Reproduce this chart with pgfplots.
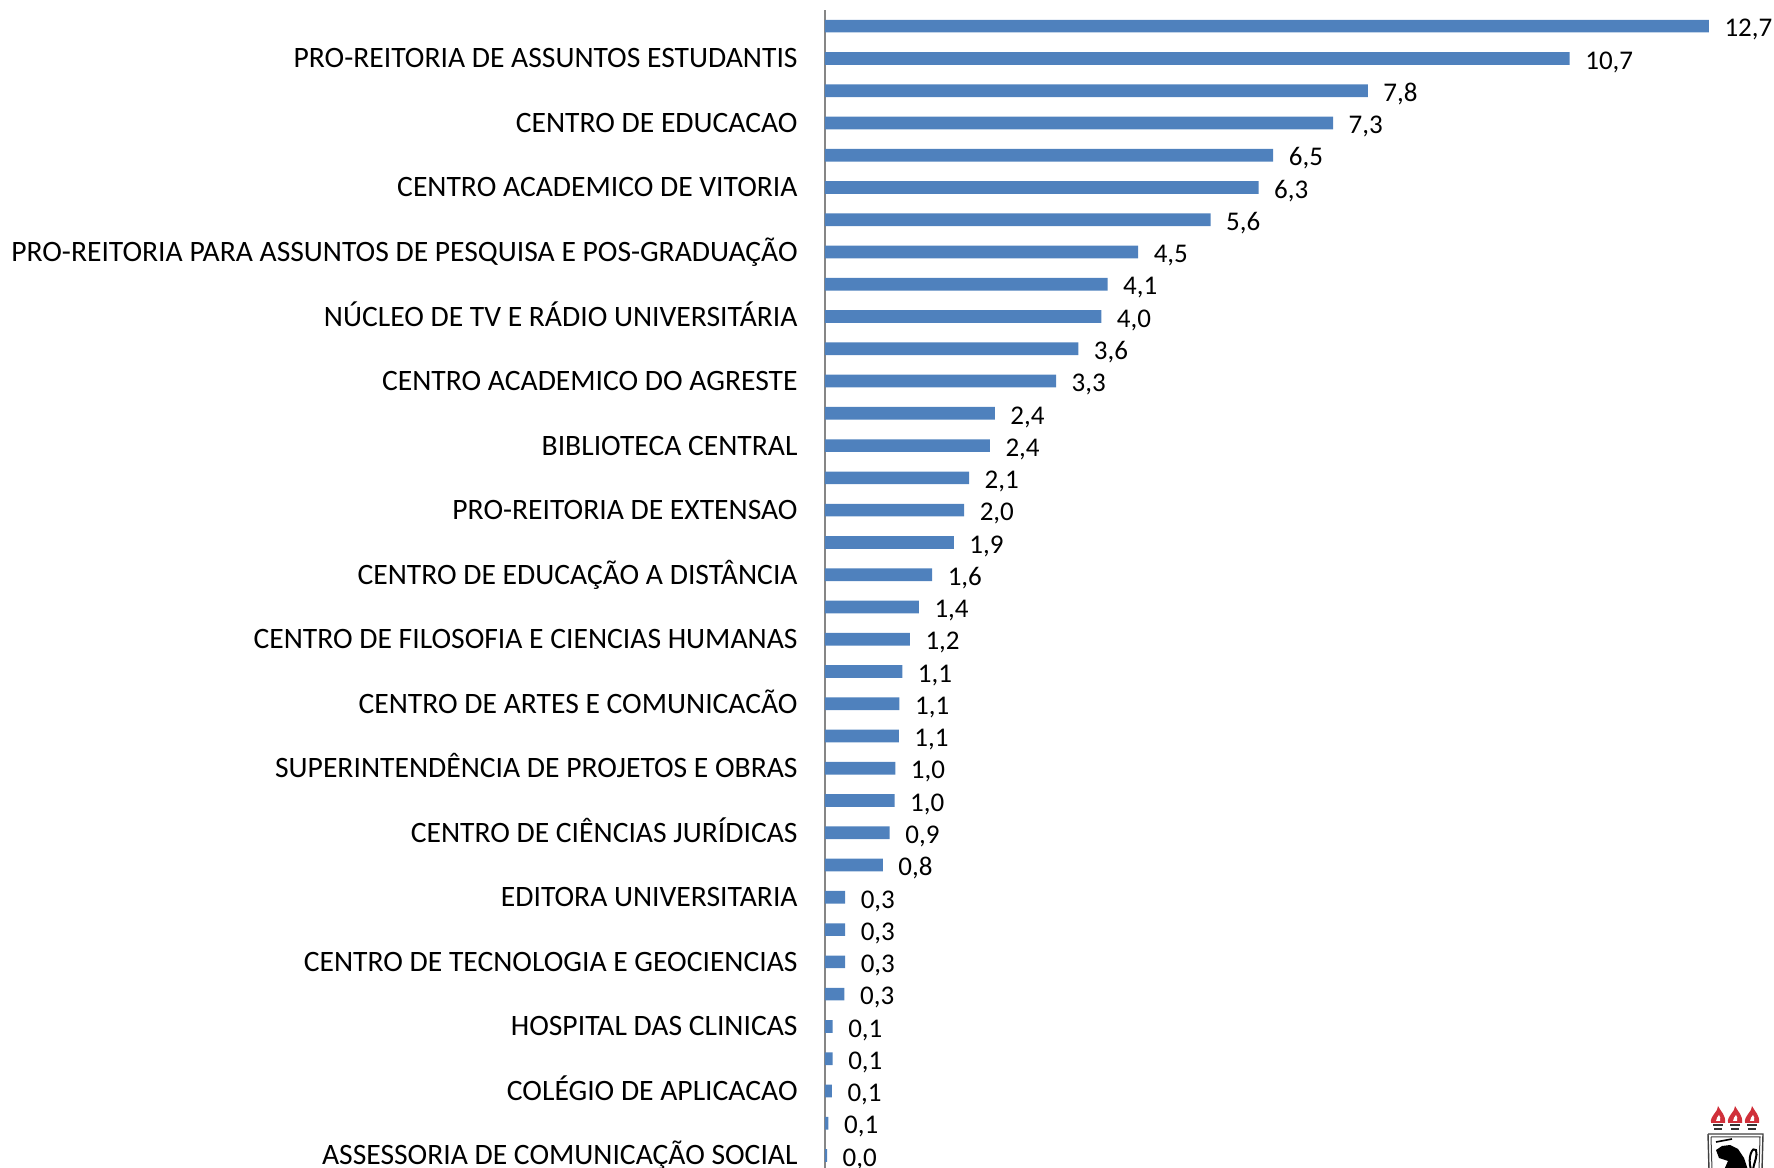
\documentclass[border=0pt]{standalone}
\usepackage{pgfplots}
\pgfplotsset{compat=1.18}
\usepackage{fontspec}
\setmainfont{Carlito}
\definecolor{barblue}{HTML}{4F81BD}
\definecolor{axisgray}{HTML}{868686}
\definecolor{flame}{HTML}{D0303A}
\begin{document}
\begin{tikzpicture}
\path[use as bounding box] (0,0) rectangle (887pt,584pt);
\begin{axis}[
  at={(412.5pt,-1.8pt)},anchor=south west,
  scale only axis,width=469.8pt,height=580.8pt,
  xmin=0,xmax=13.5,ymin=0.5,ymax=36.5,y dir=reverse,
  axis x line=none,axis y line*=left,
  axis line style={draw=axisgray,line width=1pt,-},
  clip=false,
  xbar,bar width=6.35pt,
  ytick={2,4,...,36},
  yticklabels={PRO-REITORIA DE ASSUNTOS ESTUDANTIS,CENTRO DE EDUCACAO,CENTRO ACADEMICO DE VITORIA,PRO-REITORIA PARA ASSUNTOS DE PESQUISA E POS-GRADUAÇÃO,NÚCLEO DE TV E RÁDIO UNIVERSITÁRIA,CENTRO ACADEMICO DO AGRESTE,BIBLIOTECA CENTRAL,PRO-REITORIA DE EXTENSAO,CENTRO DE EDUCAÇÃO A DISTÂNCIA,CENTRO DE FILOSOFIA E CIENCIAS HUMANAS,CENTRO DE ARTES E COMUNICACÃO,SUPERINTENDÊNCIA DE PROJETOS E OBRAS,CENTRO DE CIÊNCIAS JURÍDICAS,EDITORA UNIVERSITARIA,CENTRO DE TECNOLOGIA E GEOCIENCIAS,HOSPITAL DAS CLINICAS,COLÉGIO DE APLICACAO,ASSESSORIA DE COMUNICAÇÃO SOCIAL},
  y tick label style={font=\fontsize{14.8}{17}\selectfont,black,inner sep=0pt,text height=12pt,text depth=2.5pt},
  tick style={draw=none},major tick length=0pt,
  yticklabel shift=13.5pt,
  point meta=explicit symbolic,
  nodes near coords,
  nodes near coords style={font=\fontsize{13.5}{16}\selectfont,black,anchor=west,inner sep=0pt,xshift=7.6pt,yshift=-1.6pt,text height=10pt,text depth=2.5pt},
]
\addplot[fill=barblue,draw=none] coordinates {
(12.70,1)[12,7] (10.70,2)[10,7] (7.80,3)[7,8] (7.30,4)[7,3] (6.44,5)[6,5] (6.23,6)[6,3]
(5.54,7)[5,6] (4.50,8)[4,5] (4.06,9)[4,1] (3.97,10)[4,0] (3.64,11)[3,6] (3.32,12)[3,3]
(2.44,13)[2,4] (2.37,14)[2,4] (2.07,15)[2,1] (2.00,16)[2,0] (1.85,17)[1,9] (1.54,18)[1,6]
(1.35,19)[1,4] (1.22,20)[1,2] (1.11,21)[1,1] (1.07,22)[1,1] (1.06,23)[1,1] (1.01,24)[1,0]
(1.00,25)[1,0] (0.93,26)[0,9] (0.83,27)[0,8] (0.29,28)[0,3] (0.29,29)[0,3] (0.29,30)[0,3]
(0.28,31)[0,3] (0.11,32)[0,1] (0.11,33)[0,1] (0.10,34)[0,1] (0.05,35)[0,1] (0.03,36)[0,0]
};
\end{axis}
% institutional crest, bottom right corner (pixel coordinates of the reference)
\begin{scope}[yshift=584pt,x=0.5pt,y=-0.5pt]
\foreach \c in {1718,1735,1752}{
  \fill[flame] (\c-7,1123) .. controls (\c-8,1115) and (\c-1,1114) .. (\c,1106)
     .. controls (\c+3,1112) and (\c+8,1115) .. (\c+7,1123) -- cycle;
  \fill[white] (\c-2,1121) .. controls (\c-2,1118) and (\c,1117) .. (\c+1,1115) .. controls (\c+2,1117) and (\c+3,1118) .. (\c+2,1121) -- cycle;
  \fill[black!80] (\c-5,1124) rectangle (\c+5,1126);
  \fill[black!80] (\c-4,1128) rectangle (\c+4,1130);
}
\draw[black!75,line width=0.7pt] (1708,1134) -- (1763,1134) -- (1762,1170) (1708,1134) -- (1709,1170);
\draw[black!75,line width=0.5pt] (1711,1137) -- (1760,1137) -- (1759,1170) (1711,1137) -- (1712,1170);
\fill[black] (1716,1150) -- (1722,1146) -- (1730,1145) -- (1738,1149) -- (1744,1158) -- (1748,1170) -- (1724,1170) -- (1728,1161) -- (1719,1158) -- cycle;
\draw[black,line width=0.8pt] (1716,1142) -- (1732,1139);
\draw[black,line width=1pt] (1751,1170) .. controls (1747,1156) and (1753,1146) .. (1756,1150) .. controls (1758,1156) and (1754,1162) .. (1753,1170);
\end{scope}
\end{tikzpicture}
\end{document}
